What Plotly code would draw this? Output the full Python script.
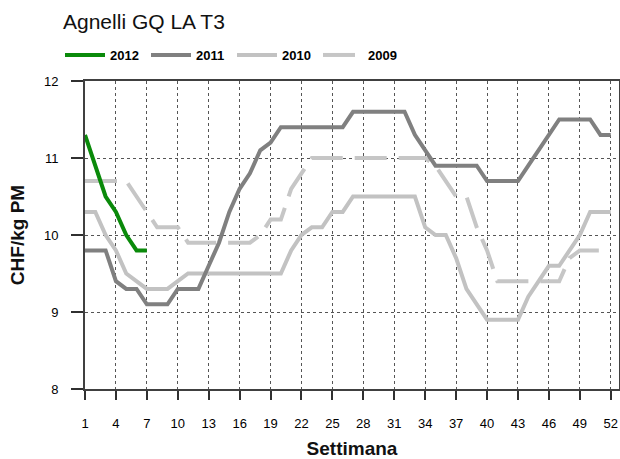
import plotly.graph_objects as go

weeks = list(range(1, 53))
tick_weeks = list(range(1, 53, 3))
y_ticks = [8, 9, 10, 11, 12]

price_2012 = [11.3, 10.9, 10.5, 10.3, 10.0, 9.8, 9.8]
price_2011 = [9.8, 9.8, 9.8, 9.4, 9.3, 9.3, 9.1, 9.1, 9.1, 9.3,
              9.3, 9.3, 9.6, 9.9, 10.3, 10.6, 10.8, 11.1, 11.2, 11.4,
              11.4, 11.4, 11.4, 11.4, 11.4, 11.4, 11.6, 11.6, 11.6, 11.6,
              11.6, 11.6, 11.3, 11.1, 10.9, 10.9, 10.9, 10.9, 10.9, 10.7,
              10.7, 10.7, 10.7, 10.9, 11.1, 11.3, 11.5, 11.5, 11.5, 11.5,
              11.3, 11.3]
price_2010 = [10.3, 10.3, 10.0, 9.8, 9.5, 9.4, 9.3, 9.3, 9.3, 9.4,
              9.5, 9.5, 9.5, 9.5, 9.5, 9.5, 9.5, 9.5, 9.5, 9.5,
              9.8, 10.0, 10.1, 10.1, 10.3, 10.3, 10.5, 10.5, 10.5, 10.5,
              10.5, 10.5, 10.5, 10.1, 10.0, 10.0, 9.7, 9.3, 9.1, 8.9,
              8.9, 8.9, 8.9, 9.2, 9.4, 9.6, 9.6, 9.8, 10.0, 10.3,
              10.3, 10.3]
price_2009 = [10.7, 10.7, 10.7, 10.7, 10.7, 10.5, 10.3, 10.1, 10.1, 10.1,
              9.9, 9.9, 9.9, 9.9, 9.9, 9.9, 9.9, 10.0, 10.2, 10.2,
              10.6, 10.8, 11.0, 11.0, 11.0, 11.0, 11.0, 11.0, 11.0, 11.0,
              11.0, 11.0, 11.0, 11.0, 10.9, 10.7, 10.5, 10.5, 10.1, 9.8,
              9.4, 9.4, 9.4, 9.4, 9.4, 9.4, 9.4, 9.7, 9.8, 9.8,
              9.8]

FONT = "Arial, Liberation Sans, sans-serif"

series = [
    ("2009", price_2009, "#c6c6c6", "32px,12px", 4),
    ("2010", price_2010, "#c2c2c2", "solid", 4),
    ("2011", price_2011, "#808080", "solid", 4),
    ("2012", price_2012, "#0a8a0a", "solid", 4),
]

fig = go.Figure()
for name, vals, color, dash, w in series:
    fig.add_trace(go.Scatter(
        x=weeks[:len(vals)], y=vals, mode="lines", name=name,
        line=dict(color=color, width=w, dash=dash),
        legendrank=2013 - int(name),
        hoverinfo="x+y+name",
    ))

fig.update_layout(
    width=620, height=459,
    margin=dict(l=85, r=1, t=81, b=70),
    paper_bgcolor="white", plot_bgcolor="white",
    font=dict(family=FONT, color="#000000", size=13),
    title=dict(
        text="Agnelli GQ LA T3",
        font=dict(family=FONT, size=21, color="#111111"),
        xref="container", yref="container",
        x=63 / 620, xanchor="left",
        y=1 - 14 / 459, yanchor="top",
    ),
    legend=dict(
        orientation="h",
        xref="container", yref="container",
        x=60 / 620, xanchor="left",
        y=1 - 40 / 459, yanchor="top",
        font=dict(family=FONT, size=13, color="#000000", weight="bold"),
        traceorder="normal",
        entrywidth=31, entrywidthmode="pixels",
        itemwidth=40,
        bgcolor="rgba(0,0,0,0)",
    ),
    showlegend=True,
)

fig.update_xaxes(
    range=[1, 52.8],
    tickvals=tick_weeks,
    ticktext=[str(t) for t in tick_weeks],
    ticks="outside", ticklen=9, tickwidth=1.5, tickcolor="#303030",
    ticklabelstandoff=12,
    tickfont=dict(family=FONT, size=13, color="#000000"),
    showline=True, linecolor="#404040", linewidth=2, mirror=True,
    showgrid=True, gridcolor="#555555", gridwidth=1, griddash="3px,3px",
    zeroline=False, automargin=False,
    title=dict(text="Settimana", standoff=16,
               font=dict(family=FONT, size=19, color="#111111", weight="bold")),
)
fig.update_yaxes(
    range=[8, 12],
    tickvals=y_ticks,
    ticks="outside", ticklen=12, tickwidth=1.5, tickcolor="#303030",
    ticklabelstandoff=10,
    tickfont=dict(family=FONT, size=13, color="#000000"),
    showline=True, linecolor="#404040", linewidth=2, mirror=True,
    showgrid=True, gridcolor="#555555", gridwidth=1, griddash="3px,3px",
    zeroline=False, automargin=False,
    title=dict(text="CHF/kg PM", standoff=14,
               font=dict(family=FONT, size=19, color="#111111", weight="bold")),
)

fig.write_html("out.html", config={"displayModeBar": False},
               post_script="document.body.style.margin='0';")
